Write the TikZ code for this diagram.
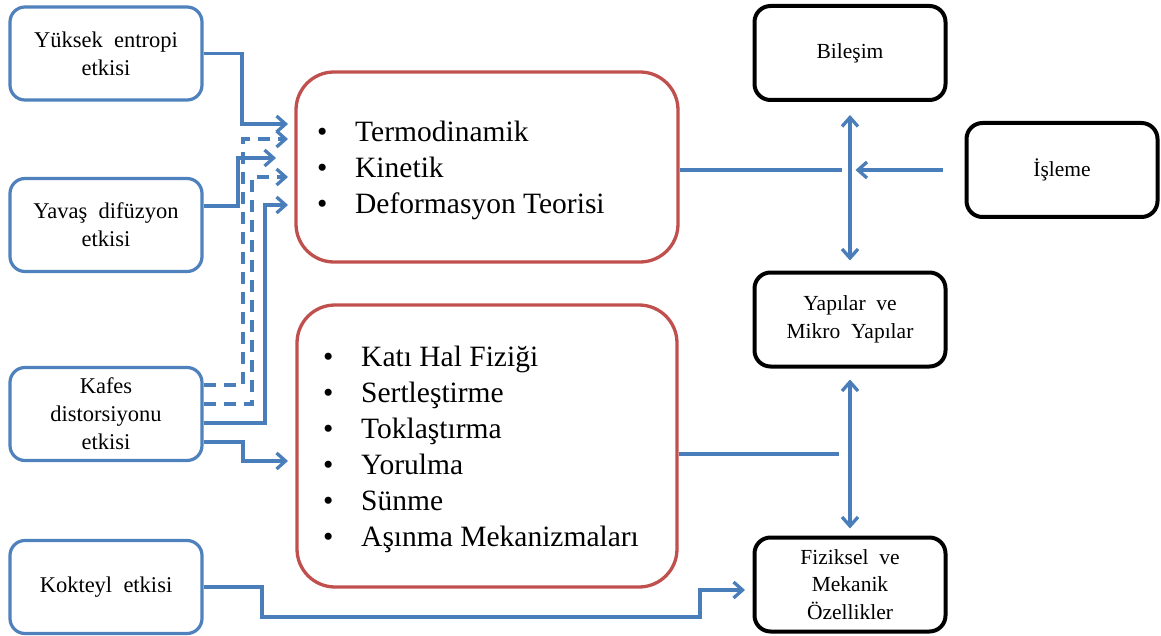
\documentclass[tikz,border=0pt]{standalone}
\usepackage{fontspec}
\setmainfont{Liberation Serif}
\usetikzlibrary{arrows.meta}
\definecolor{bboxc}{HTML}{4F81BD}
\definecolor{linec}{HTML}{4A7EBB}
\definecolor{rboxc}{HTML}{C0504D}
\newcommand{\blt}{\makebox[38pt][l]{•}}
\newcommand{\wsp}{\hspace{0.5em}}
\begin{document}
\begin{tikzpicture}[x=1pt,y=-1pt,
  >={Straight Barb[length=9pt,width=16pt]},
  lbox/.style={draw=bboxc, line width=3.2pt, rounded corners=15pt, minimum width=192pt, minimum height=93pt, align=center, font=\fontsize{22.5}{28}\selectfont, inner sep=0pt},
  rbox/.style={draw=rboxc, line width=3.3pt, rounded corners=38pt, inner sep=0pt},
  kbox/.style={draw=black, line width=4pt, rounded corners=16pt, minimum width=191pt, minimum height=94pt, align=center, font=\fontsize{21.5}{27.5}\selectfont, inner sep=0pt},
  plain/.style={draw=linec, line width=3.3pt},
  conn/.style={plain, ->},
  dconn/.style={conn, dash pattern=on 12pt off 8pt},
  listtext/.style={align=left, anchor=west, inner sep=0pt, font=\fontsize{29.5}{36}\selectfont}]
\useasboundingbox (0,0) rectangle (1161,636);

% left boxes
\node[lbox] (yuksek) at (106,53.5) {Yüksek\wsp entropi\\etkisi};
\node[lbox] (yavas) at (106,225) {Yavaş\wsp difüzyon\\etkisi};
\node[lbox] (kafes) at (106,414) {Kafes\\distorsiyonu\\etkisi};
\node[lbox] (kokteyl) at (106,587) {Kokteyl\wsp etkisi};

% red boxes
\node[rbox, minimum width=382pt, minimum height=190pt] (termo) at (487,167) {};
\node[rbox, minimum width=380pt, minimum height=282pt] (kati) at (487,446) {};
\node[listtext] (termolist) at (317,170) {\blt Termodinamik\\ \blt Kinetik\\ \blt Deformasyon Teorisi};
\node[listtext] (katilist) at (323,449) {\blt Katı Hal Fiziği\\ \blt Sertleştirme\\ \blt Toklaştırma\\ \blt Yorulma\\ \blt Sünme\\ \blt Aşınma Mekanizmaları};

% right boxes
\node[kbox] (bilesim) at (850,53) {Bileşim};
\node[kbox] (isleme) at (1062,170) {İşleme};
\node[kbox] (yapilar) at (850,319.5) {Yapılar\wsp ve\\Mikro\wsp Yapılar};
\node[kbox] (fiziksel) at (850,584.5) {Fiziksel\wsp ve\\Mekanik\\Özellikler};

% left connectors
\draw[conn] (yuksek.east) -| (242,124) -- ++(46,0);
\draw[conn] ([yshift=19pt]yavas.east) -| (238,158) -- ++(38,0);
\draw[dconn] ([yshift=29pt]kafes.east) -| (243,139) -- ++(45,0);
\draw[dconn] ([yshift=10pt]kafes.east) -| (252,177) -- ++(36,0);
\draw[conn] ([yshift=-9pt]kafes.east) -| (265,205) -- ++(23,0);
\draw[conn] ([yshift=-28pt]kafes.east) -| (243,461) -- ++(45,0);
\draw[conn] (kokteyl.east) -| (262,617) -| (700,590) -- ++(45,0);

% right connectors
\draw[plain] (termo.east |- isleme.west) -- ++(162,0);
\draw[conn] ([xshift=-22pt]isleme.west) -- ++(-87,0);
\draw[plain, <->] ([yshift=-13pt]bilesim.south) -- ([yshift=10pt]yapilar.north);
\draw[plain, <->] ([yshift=-11pt]yapilar.south) -- ([yshift=7pt]fiziksel.north);
\draw[plain] ([yshift=-8pt]kati.east) -- ++(160,0);
\end{tikzpicture}
\end{document}
